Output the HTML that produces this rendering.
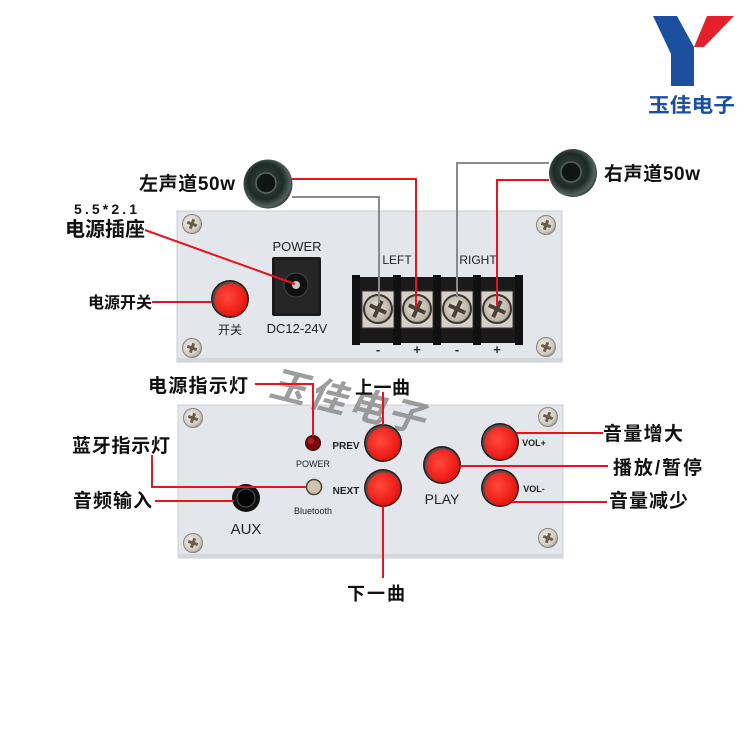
<!DOCTYPE html>
<html><head><meta charset="utf-8">
<style>
html,body{margin:0;padding:0;background:#fff;}
svg{display:block;}
.lb{font-family:"Liberation Sans","Noto Sans CJK SC",sans-serif;font-weight:bold;fill:#111;}
.sm{font-family:"Liberation Sans","Noto Sans CJK SC",sans-serif;fill:#222;}
</style></head><body>
<svg width="750" height="750" viewBox="0 0 750 750" xmlns="http://www.w3.org/2000/svg">
<defs>
<radialGradient id="btn" cx="0.4" cy="0.4" r="0.7">
<stop offset="0" stop-color="#ff4a3a"/><stop offset="0.7" stop-color="#ee1e18"/><stop offset="1" stop-color="#c8120f"/>
</radialGradient>
<radialGradient id="spk" cx="0.45" cy="0.45" r="0.6">
<stop offset="0" stop-color="#3a4a44"/><stop offset="0.6" stop-color="#1e2a26"/><stop offset="0.85" stop-color="#56625e"/><stop offset="1" stop-color="#1a2220"/>
</radialGradient>
<radialGradient id="scr" cx="0.4" cy="0.4" r="0.7">
<stop offset="0" stop-color="#f2efe8"/><stop offset="0.7" stop-color="#cfcac0"/><stop offset="1" stop-color="#8b867e"/>
</radialGradient>
<radialGradient id="term" cx="0.45" cy="0.45" r="0.6">
<stop offset="0" stop-color="#e8e2d8"/><stop offset="0.8" stop-color="#b9b2a6"/><stop offset="1" stop-color="#6e675e"/>
</radialGradient>
<g id="screw">
<circle r="9.5" fill="url(#scr)" stroke="#8a857c" stroke-width="1"/>
<path d="M-5,-1.5 L-1.5,-1.5 L-1.5,-5 L1.5,-5 L1.5,-1.5 L5,-1.5 L5,1.5 L1.5,1.5 L1.5,5 L-1.5,5 L-1.5,1.5 L-5,1.5Z" fill="#6b5c4a" transform="rotate(20)"/>
</g>
<g id="button">
<circle r="19" fill="#2a1a18"/>
<circle r="17.5" fill="#9a9a9a" opacity="0.4"/>
<circle r="16.5" cx="1" cy="1" fill="url(#btn)"/>
</g>
<g id="tscrew">
<rect x="-16" y="-18" width="32" height="37" fill="#d6d0c6" stroke="#3a3632" stroke-width="1"/>
<circle r="14" fill="url(#term)" stroke="#3b3630" stroke-width="2"/>
<path d="M-9,-2 L-2,-2 L-2,-9 L2,-9 L2,-2 L9,-2 L9,2 L2,2 L2,9 L-2,9 L-2,2 L-9,2Z" fill="#4a4038" transform="rotate(25)"/>
</g>
</defs>

<!-- Logo -->
<polygon points="653,16 677,16 694,47 694,86 671,86 671,54" fill="#1d4f9f"/>
<polygon points="707,16 734,16 704,47 694,47" fill="#e5202a"/>
<text x="648" y="112" class="lb" style="fill:#1d4f9f" font-size="20" textLength="87" lengthAdjust="spacingAndGlyphs">玉佳电子</text>

<!-- TOP PANEL -->
<rect x="177" y="211" width="385" height="151" fill="#e3e6eb" stroke="#c9cdd3" stroke-width="1"/>
<rect x="177" y="358" width="385" height="4" fill="#d3d7dc"/>
<use href="#screw" x="192" y="224"/>
<use href="#screw" x="192" y="348"/>
<use href="#screw" x="546" y="225"/>
<use href="#screw" x="546" y="347"/>

<!-- power switch -->
<use href="#button" x="230" y="299"/>
<text x="230" y="334" class="sm" font-size="12" text-anchor="middle">开关</text>

<!-- DC jack -->
<text x="297" y="251" class="sm" font-size="13" text-anchor="middle">POWER</text>
<rect x="272" y="257" width="49" height="59" rx="2" fill="#1c1c1c"/>
<rect x="275" y="260" width="43" height="53" fill="#262626"/>
<circle cx="296" cy="285" r="12" fill="#101010" stroke="#444" stroke-width="1"/>
<circle cx="296" cy="285" r="4" fill="#c8c8c8"/>
<text x="297" y="333" class="sm" font-size="13" text-anchor="middle">DC12-24V</text>

<!-- terminal block -->
<text x="397" y="264" class="sm" font-size="12" text-anchor="middle">LEFT</text>
<text x="478" y="264" class="sm" font-size="12" text-anchor="middle">RIGHT</text>
<rect x="352" y="277" width="171" height="66" fill="#1a1a1a"/>
<rect x="352" y="275" width="8" height="70" fill="#111"/>
<rect x="515" y="275" width="8" height="70" fill="#111"/>
<rect x="393" y="275" width="8" height="70" fill="#111"/>
<rect x="433" y="275" width="8" height="70" fill="#111"/>
<rect x="473" y="275" width="8" height="70" fill="#111"/>
<use href="#tscrew" x="378" y="309"/>
<use href="#tscrew" x="417" y="309"/>
<use href="#tscrew" x="457" y="309"/>
<use href="#tscrew" x="497" y="309"/>
<text x="378" y="354" class="lb" font-size="13" text-anchor="middle" style="fill:#333">-</text>
<text x="417" y="354" class="lb" font-size="13" text-anchor="middle" style="fill:#333">+</text>
<text x="457" y="354" class="lb" font-size="13" text-anchor="middle" style="fill:#333">-</text>
<text x="497" y="354" class="lb" font-size="13" text-anchor="middle" style="fill:#333">+</text>

<!-- speaker wires -->
<polyline points="292,197 379,197 379,303" fill="none" stroke="#8a8a8a" stroke-width="2"/>
<polyline points="292,179 416,179 416,307" fill="none" stroke="#e8141b" stroke-width="2"/>
<polyline points="549,163 457,163 457,297" fill="none" stroke="#8a8a8a" stroke-width="2"/>
<polyline points="549,180 497,180 497,305" fill="none" stroke="#e8141b" stroke-width="2"/>

<!-- speakers -->
<circle cx="268" cy="184" r="24.5" fill="url(#spk)"/>
<circle cx="266" cy="183" r="10" fill="#0f1513" stroke="#56625e" stroke-width="1.5"/>
<circle cx="573" cy="173" r="24" fill="url(#spk)"/>
<circle cx="571" cy="172" r="10" fill="#0f1513" stroke="#56625e" stroke-width="1.5"/>

<!-- top labels -->
<text x="139" y="190" class="lb" font-size="19" textLength="96">左声道50w</text>
<text x="604" y="180" class="lb" font-size="19" textLength="96">右声道50w</text>
<text x="74" y="214" class="lb" font-size="14" textLength="63">5.5*2.1</text>
<text x="65" y="236" class="lb" font-size="20" textLength="80">电源插座</text>
<text x="88" y="308" class="lb" font-size="16" textLength="64">电源开关</text>
<line x1="145" y1="230" x2="295" y2="284" stroke="#e8141b" stroke-width="2"/>
<line x1="152" y1="302" x2="212" y2="302" stroke="#e8141b" stroke-width="2"/>

<!-- BOTTOM PANEL -->
<rect x="178" y="405" width="385" height="153" fill="#e3e6eb" stroke="#c9cdd3" stroke-width="1"/>
<rect x="178" y="554" width="385" height="4" fill="#d3d7dc"/>
<use href="#screw" x="193" y="418"/>
<use href="#screw" x="193" y="543"/>
<use href="#screw" x="548" y="417"/>
<use href="#screw" x="548" y="538"/>

<!-- watermark -->
<g transform="translate(268,395) rotate(14) skewX(-12)" opacity="0.85">
<text x="0" y="0" font-family="'Noto Sans CJK SC',sans-serif" font-weight="bold" font-size="37" fill="#8c8c8c" textLength="158">玉佳电子</text>
</g>

<!-- LEDs -->
<circle cx="313" cy="443" r="7.5" fill="#7a0a0a" stroke="#3a0505" stroke-width="1"/>
<circle cx="311" cy="441" r="3" fill="#b02020"/>
<text x="313" y="467" class="sm" font-size="9" text-anchor="middle">POWER</text>
<circle cx="314" cy="487" r="7.5" fill="#cfc4b0" stroke="#4a4438" stroke-width="1.5"/>
<text x="313" y="514" class="sm" font-size="9" text-anchor="middle">Bluetooth</text>

<!-- AUX -->
<circle cx="246" cy="498" r="14" fill="#111"/>
<circle cx="246" cy="498" r="9" fill="#050505" stroke="#555" stroke-width="1"/>
<text x="246" y="534" class="sm" font-size="15" text-anchor="middle">AUX</text>

<!-- buttons -->
<text x="346" y="449" class="lb" font-size="10" text-anchor="middle" style="fill:#222">PREV</text>
<text x="346" y="494" class="lb" font-size="10" text-anchor="middle" style="fill:#222">NEXT</text>
<use href="#button" x="383" y="443"/>
<use href="#button" x="383" y="488"/>
<use href="#button" x="442" y="465"/>
<text x="442" y="504" class="sm" font-size="14" text-anchor="middle">PLAY</text>
<use href="#button" x="500" y="442"/>
<use href="#button" x="500" y="488"/>
<text x="534" y="446" class="lb" font-size="9" text-anchor="middle" style="fill:#222">VOL+</text>
<text x="534" y="492" class="lb" font-size="9" text-anchor="middle" style="fill:#222">VOL-</text>

<!-- bottom connectors -->
<polyline points="255,384 313,384 313,436" fill="none" stroke="#e8141b" stroke-width="2"/>
<line x1="383" y1="392" x2="383" y2="425" stroke="#e8141b" stroke-width="2"/>
<polyline points="152,455 152,487 306,487" fill="none" stroke="#e8141b" stroke-width="2"/>
<line x1="155" y1="501" x2="234" y2="501" stroke="#e8141b" stroke-width="2"/>
<line x1="383" y1="506" x2="383" y2="578" stroke="#e8141b" stroke-width="2"/>
<line x1="516" y1="433" x2="603" y2="433" stroke="#e8141b" stroke-width="2"/>
<line x1="460" y1="466" x2="608" y2="466" stroke="#e8141b" stroke-width="2"/>
<line x1="512" y1="502" x2="607" y2="502" stroke="#e8141b" stroke-width="2"/>

<!-- bottom labels -->
<text x="148" y="392" class="lb" font-size="19" textLength="100">电源指示灯</text>
<text x="355" y="394" class="lb" font-size="18" textLength="55">上一曲</text>
<text x="72" y="452" class="lb" font-size="19" textLength="98">蓝牙指示灯</text>
<text x="73" y="507" class="lb" font-size="19" textLength="79">音频输入</text>
<text x="347" y="600" class="lb" font-size="18" textLength="58">下一曲</text>
<text x="603" y="440" class="lb" font-size="19" textLength="80">音量增大</text>
<text x="613" y="474" class="lb" font-size="19" textLength="89">播放/暂停</text>
<text x="609" y="507" class="lb" font-size="19" textLength="79">音量减少</text>
</svg>
</body></html>
